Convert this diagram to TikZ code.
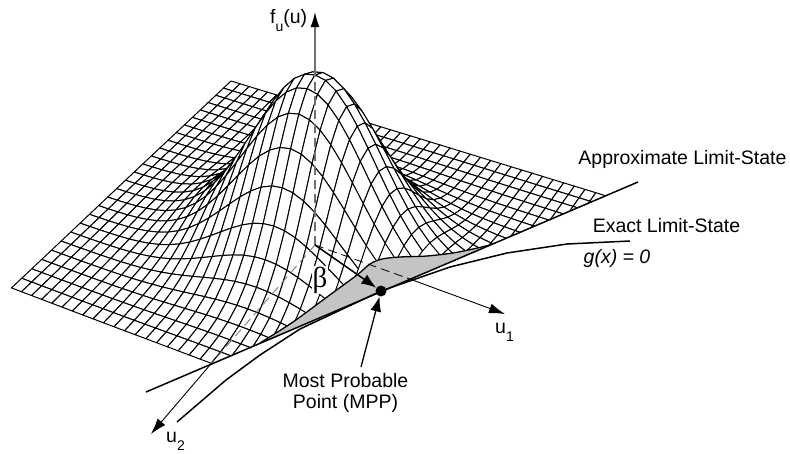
\documentclass[tikz,border=0pt]{standalone}
\usepackage{fontspec}
\setmainfont{Liberation Sans}
\newfontfamily\betafont{Liberation Serif}
\usetikzlibrary{arrows.meta,positioning,calc}
\definecolor{cutgrey}{HTML}{C4C4C4}
\definecolor{axisgrey}{HTML}{707070}
\tikzset{
  meshcell/.style = {draw=black, fill=white, line width=1pt, line join=round},
  limit/.style    = {line width=1.5pt, line join=round},
  sig/.style      = {-{Latex[length=16pt,width=10pt]}, line width=0.9pt},
  beam/.style     = {-{Latex[length=15pt,width=11pt]}, line width=1.5pt},
  hidden/.style   = {line width=0.8pt, dash pattern=on 9pt off 5pt},
  dot/.style      = {circle, fill=black, minimum size=11pt, inner sep=0pt},
  lbl/.style      = {font=\fontsize{19.5}{21}\selectfont, inner sep=0pt, align=center},
}
\newcommand{\lowsub}[1]{\raisebox{-0.42em}{\fontsize{14}{14}\selectfont #1}}
\newcommand{\cutprofile}{(260,343) (293,322) (327,297) (357,275) (370,264) (382,259) (400,257) (427,256) (453,253) (473,249) (490,245)}
\begin{document}
\begin{tikzpicture}[x=1pt,y=-1pt]
  \useasboundingbox (0,0) rectangle (790,453);
  % surface points
  \foreach \i in {0,...,38}{
    \foreach \j in {0,...,25}{
      \edef\pw{\fpeval{1-0.002277*\i-0.005825*\j}}
      \edef\px{\fpeval{round((231+8.5023*\i-8.8482*\j)/\pw,2)}}
      \edef\py{\fpeval{round((81+2.5798*\i+6.5997*\j-149.77*exp(-(((\i-19)*(\i-19)/2.31+(\j-13)*(\j-13))/25.5)^1.05))/\pw,2)}}
      \coordinate (m-\i-\j) at (\px,\py);
    }
  }
  % surface, back to front, cut at the limit-state plane
  \begin{scope}
    \clip (0,0) -- (0,454) -- plot[smooth] coordinates {\cutprofile} -- (790,117) -- (790,0) -- cycle;
    \foreach \i [count=\ii from 1] in {0,...,37}{
      \foreach \j [count=\jj from 1] in {0,...,24}{
        \ifnum\fpeval{1.33*(\i-19)+\j-25.1>0}=0
          \filldraw[meshcell] (m-\i-\j) -- (m-\ii-\j) -- (m-\ii-\jj) -- (m-\i-\jj) -- cycle;
        \fi
      }
    }
  \end{scope}
  % cut face
  \fill[cutgrey] plot[smooth] coordinates {\cutprofile} -- cycle;
  \draw[line width=1.3pt] plot[smooth] coordinates {\cutprofile};

  \coordinate (origin) at (315,245);
  \coordinate (peak) at (315,75);
  \coordinate (top) at (315,12);
  \coordinate (u1cross) at (407,278);
  \coordinate (u1tip) at (505,314);
  \coordinate (u2cross) at (210,365);
  \coordinate (u2tip) at (151,434);
  \coordinate (approxa) at (146,392);
  \coordinate (approxb) at (638,182);
  \coordinate (mpptail) at (361,367);
  \node[dot] (mpp) at (381,291) {};

  % axes
  \draw[hidden, axisgrey, line width=1.2pt] (origin) -- (peak);
  \draw[-{Latex[length=15pt,width=9pt,black]}, axisgrey, line width=1.3pt] (peak) -- (top);
  \draw[hidden] (origin) -- (u1cross);
  \draw[sig] (u1cross) -- (u1tip);
  \draw[hidden, axisgrey] (origin) -- (u2cross);
  \draw[sig] (u2cross) -- (u2tip);

  % limit states
  \draw[limit] (approxa) -- (approxb);
  \draw[limit] (177,422) -- (226,380) -- (260,355) -- (300,329) -- (mpp) -- (450,267) -- (507,253) -- (567,244) -- (630,241);
  \draw[beam] (origin) -- (mpp);
  \draw[beam, line width=1.3pt] (mpptail) -- (mpp);

  % labels
  \node[lbl, anchor=base west] (fu) at (270,23) {f\lowsub{u}(u)};
  \node[lbl, fill=white, inner sep=1pt, font=\fontsize{29}{30}\betafont] (beta) at (320,280) {β};
  \node[lbl] (approxlbl) at (682.5,159) {Approximate Limit-State};
  \node[lbl] (exactlbl) at (666.5,226) {Exact Limit-State};
  \node[lbl, font=\fontsize{19.5}{21}\selectfont\itshape] (glbl) at (617,258) {g(x) = 0};
  \node[lbl, anchor=base west] (u1lbl) at (495,333) {u\lowsub{1}};
  \node[lbl, anchor=base west] (u2lbl) at (166,442) {u\lowsub{2}};
  \node[lbl] (mpplbl) at (345.5,393) {Most Probable\\Point (MPP)};
\end{tikzpicture}
\end{document}
